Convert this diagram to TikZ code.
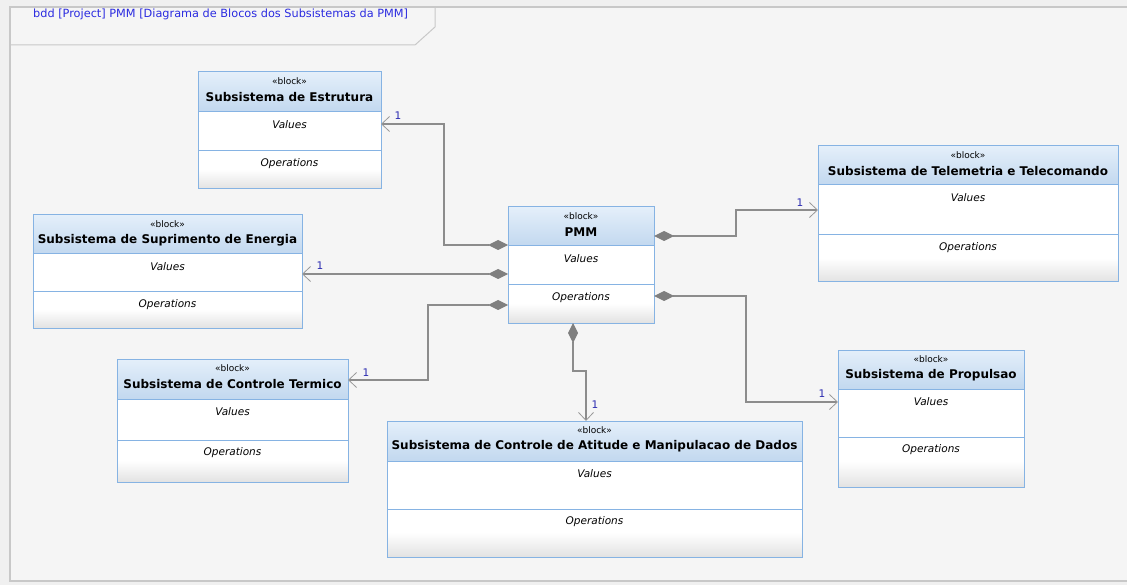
\documentclass[tikz,border=0pt]{standalone}
\usepackage{fontspec}
\setmainfont{DejaVu Sans}
\usetikzlibrary{arrows.meta}
\definecolor{outerbg}{HTML}{F0F0F0}
\definecolor{bg}{HTML}{F5F5F5}
\definecolor{framec}{HTML}{C8C8C8}
\definecolor{hdtop}{HTML}{E4EFFA}
\definecolor{hdbot}{HTML}{C2D8EF}
\definecolor{bordc}{HTML}{86B3E3}
\definecolor{opbot}{HTML}{E2E2E2}
\definecolor{lnc}{HTML}{8C8C8C}
\definecolor{dia}{HTML}{7F7F7F}
\definecolor{arrc}{HTML}{9A9A9A}
\definecolor{labc}{HTML}{2A2AB0}
\definecolor{titc}{HTML}{2B2BE0}
\tikzset{
  blockframe/.style={draw=bordc, line width=1pt, inner sep=0pt, outer sep=0pt, rectangle},
  stereo/.style={font=\fontsize{9}{10}\selectfont, inner sep=0pt},
  btitle/.style={font=\fontsize{12}{14}\selectfont\bfseries, inner sep=0pt},
  comp/.style={font=\fontsize{10.5}{12}\selectfont\itshape, inner sep=0pt},
  mult/.style={font=\fontsize{10.5}{12}\selectfont, text=labc, inner sep=0pt},
  conn/.style={draw=lnc, line width=1.3pt,
    {Diamond[length=20pt,width=10pt,color=dia,fill=dia]}-{Straight Barb[length=8pt,width=15pt,line width=0.8pt,color=arrc]}},
}
\newcommand\sysblock[8]{%
  \shade[top color=hdtop,bottom color=hdbot] (#2,#3) rectangle (#4,#6);
  \fill[white] (#2,#6) rectangle (#4,{(#7+#5)/2});
  \shade[top color=white,bottom color=opbot] (#2,{(#7+#5)/2-0.5}) rectangle (#4,#5);
  \node[blockframe, anchor=north west, minimum width={(#4-#2)*1pt}, minimum height={(#5-#3)*1pt}] (#1) at (#2,#3) {};
  \draw[bordc, line width=1pt] (#2,#6) -- (#4,#6) (#2,#7) -- (#4,#7);
  \node[stereo] (#1-st) at ({(#2+#4)/2},{#3+9}) {«block»};
  \node[btitle] (#1-t) at ({(#2+#4)/2},{#3+25}) {#8};
  \node[comp] (#1-v) at ({(#2+#4)/2},{#6+13}) {Values};
  \node[comp] (#1-o) at ({(#2+#4)/2},{#7+13}) {Operations};
}
\begin{document}
\begin{tikzpicture}[x=1pt,y=-1pt]
\useasboundingbox (0,0) rectangle (1127,585);
\fill[outerbg] (0,0) rectangle (1127,585);
\fill[bg] (10,7) rectangle (1127,581);
\draw[framec, line width=1.5pt] (1127,7) -- (10,7) -- (10,581) -- (1127,581);
\draw[framec, line width=1pt] (10,45) -- (415,45) -- (435,27) -- (435,7);
\node[anchor=west, font=\fontsize{11.3}{13}\selectfont, text=titc, inner sep=0pt] (hdr) at (33,14) {bdd [Project] PMM [Diagrama de Blocos dos Subsistemas da PMM]};

\sysblock{estr}{198}{72}{381}{189}{112}{151}{Subsistema de Estrutura}
\sysblock{supr}{33}{215}{302}{328}{254}{292}{Subsistema de Suprimento de Energia}
\sysblock{term}{117}{359}{348}{482}{399}{440}{Subsistema de Controle Termico}
\sysblock{pmm}{508}{207}{654}{323}{246}{285}{PMM}
\sysblock{tele}{818}{146}{1118}{282}{185}{235}{Subsistema de Telemetria e Telecomando}
\sysblock{prop}{838}{350}{1024}{487}{389}{437}{Subsistema de Propulsao}
\sysblock{atit}{387}{421}{802}{557}{461}{509}{Subsistema de Controle de Atitude e Manipulacao de Dados}

\draw[conn] ([yshift=-38pt]pmm.north west) -- ++(-64,0) |- ([yshift=-52pt]estr.north east);
\draw[conn] ([yshift=-67pt]pmm.north west) -- ([yshift=-59pt]supr.north east);
\draw[conn] ([yshift=-98pt]pmm.north west) -- ++(-80,0) |- ([yshift=-21pt]term.north east);
\draw[conn] ([yshift=-29pt]pmm.north east) -- ++(82,0) |- ([yshift=-64pt]tele.north west);
\draw[conn] ([yshift=-89pt]pmm.north east) -- ++(92,0) |- ([yshift=-52pt]prop.north west);
\draw[conn] ([xshift=65pt]pmm.south west) -- ++(0,48) -| ([xshift=199pt]atit.north west);

\node[mult] (m1) at (398,116) {1};
\node[mult] (m2) at (320,266) {1};
\node[mult] (m3) at (366,373) {1};
\node[mult] (m4) at (800,203) {1};
\node[mult] (m5) at (822,394) {1};
\node[mult] (m6) at (595,405) {1};
\end{tikzpicture}
\end{document}
